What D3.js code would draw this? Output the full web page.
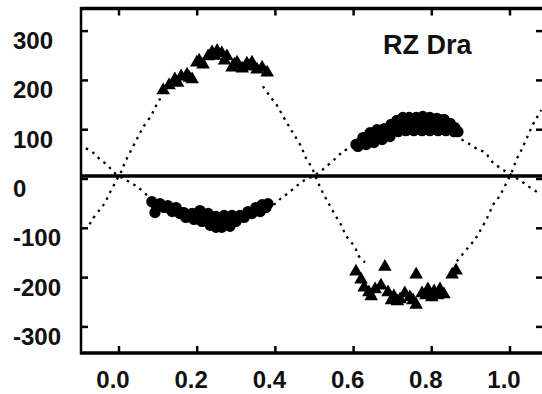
<!doctype html>
<html>
  <head>
    <title>RZ Dra radial velocity curve</title>
    <style>
      body { margin: 0; background: #fff; }
      svg text { font-family: "Liberation Sans", Arial, sans-serif; font-weight: bold; fill: #111; }
    </style>
  </head>
  <body>
    <div id="content"></div>
    <script src="https://d3js.org/d3.v7.min.js"></script>
    <script>
      // axis ticks
      const phaseTicks = [0, 0.2, 0.4, 0.6, 0.8, 1.0];
      const phaseLabels = ['0.0', '0.2', '0.4', '0.6', '0.8', '1.0'];
      const velocityTicks = [300, 200, 100, 0, -100, -200, -300];
      const velocityLabels = ['300', '200', '100', '0', '-100', '-200', '-300'];

      const starName = 'RZ Dra';
      const gamma = 6; // systemic velocity line

      // secondary star observations (triangles), [phase, km/s]
      const secondaryObs = [
        [0.113, 180], [0.128, 190], [0.143, 202], [0.159, 208], [0.174, 212], [0.187, 202],
        [0.199, 236], [0.215, 232], [0.228, 249], [0.238, 257], [0.251, 260], [0.263, 255],
        [0.276, 249], [0.289, 226], [0.302, 236], [0.315, 224], [0.327, 234], [0.340, 236],
        [0.353, 222], [0.366, 226], [0.379, 216],
        [0.150, 195], [0.180, 205], [0.205, 240], [0.245, 250], [0.270, 240], [0.295, 232],
        [0.335, 228],
        [0.606, -188], [0.619, -204], [0.627, -220], [0.639, -230], [0.655, -224], [0.670, -216],
        [0.680, -178], [0.688, -230], [0.703, -238], [0.719, -244], [0.731, -232], [0.744, -240],
        [0.760, -255], [0.760, -194], [0.775, -232], [0.790, -224], [0.806, -228], [0.821, -224],
        [0.831, -234], [0.852, -194], [0.862, -186],
        [0.645, -238], [0.697, -246], [0.712, -248], [0.752, -246], [0.785, -236], [0.800, -240],
        [0.815, -236]
      ];

      // primary star observations (circles), [phase, km/s]
      const primaryObs = [
        [0.084, -46], [0.105, -50], [0.125, -54], [0.146, -58], [0.166, -68], [0.187, -70],
        [0.207, -64], [0.228, -70], [0.248, -76], [0.269, -74], [0.289, -74], [0.309, -74],
        [0.330, -66], [0.350, -58], [0.366, -52], [0.381, -50],
        [0.095, -54], [0.115, -58], [0.136, -66], [0.156, -70], [0.171, -78], [0.192, -82],
        [0.212, -86], [0.233, -94], [0.248, -98], [0.263, -98], [0.284, -96], [0.299, -86],
        [0.320, -78], [0.340, -70], [0.361, -66], [0.376, -58], [0.092, -68],
        [0.100, -53], [0.130, -60], [0.160, -68], [0.182, -76], [0.200, -75], [0.220, -80],
        [0.240, -86], [0.258, -86], [0.278, -85], [0.296, -80], [0.315, -76], [0.335, -68],
        [0.356, -62], [0.372, -55],
        [0.606, 70], [0.624, 84], [0.642, 94], [0.660, 100], [0.678, 102], [0.696, 111],
        [0.711, 119], [0.726, 125], [0.742, 125], [0.760, 125], [0.777, 127], [0.795, 125],
        [0.813, 123], [0.831, 121], [0.847, 113], [0.859, 104],
        [0.611, 66], [0.632, 70], [0.652, 74], [0.673, 80], [0.693, 86], [0.714, 96],
        [0.734, 98], [0.754, 98], [0.775, 98], [0.795, 98], [0.816, 98], [0.836, 98],
        [0.857, 96], [0.867, 96],
        [0.620, 76], [0.640, 84], [0.662, 90], [0.684, 95], [0.704, 104], [0.722, 110],
        [0.740, 112], [0.758, 112], [0.776, 113], [0.794, 112], [0.812, 110], [0.830, 110],
        [0.848, 104]
      ];

      // dotted orbit curves, visible pieces only
      const secondaryCurve = [
        [[-0.075, -92], [-0.070, -84], [-0.049, -62], [-0.036, -48], [-0.023, -27], [-0.008, -5],
         [0.007, 17], [0.015, 33], [0.032, 60], [0.049, 86], [0.061, 104], [0.084, 131],
         [0.092, 145], [0.102, 158], [0.112, 176]],
        [[0.368, 188], [0.386, 168], [0.405, 148], [0.419, 128], [0.437, 104], [0.450, 87],
         [0.467, 64], [0.476, 46], [0.493, 23], [0.509, -7], [0.522, -29], [0.535, -48],
         [0.552, -72], [0.570, -96], [0.580, -114], [0.604, -139], [0.611, -154], [0.629, -169]],
        [[0.864, -167], [0.893, -139], [0.910, -123], [0.923, -106], [0.944, -75], [0.957, -52],
         [0.972, -36], [0.985, -17], [1.004, 13], [1.017, 40], [1.030, 60], [1.038, 74],
         [1.059, 111], [1.069, 125], [1.080, 140]]
      ];
      const primaryCurve = [
        [[-0.085, 62], [-0.079, 60], [-0.061, 50], [-0.049, 40], [-0.031, 29], [-0.019, 19],
         [-0.006, 9], [0.020, -3], [0.049, -17], [0.074, -35]],
        [[0.395, -52], [0.403, -48], [0.416, -38], [0.429, -31], [0.450, -17], [0.471, -4],
         [0.499, 7], [0.527, 23], [0.557, 44], [0.573, 56], [0.590, 62]],
        [[0.876, 80], [0.898, 70], [0.918, 60], [0.936, 54], [0.949, 40], [0.957, 33],
         [0.980, 20], [1.000, 10], [1.026, -3], [1.051, -17], [1.080, -32]]
      ];

      const width = 542;
      const height = 394;
      const frame = { left: 81, right: 543, top: 8.5, bottom: 353 };

      const x = d3.scaleLinear().domain([0, 1]).range([119, 510]);
      const y = d3.scaleLinear().domain([-300, 300]).range([326.9, 31.1]);

      const svg = d3.select('#content')
        .append('svg')
        .attr('width', width)
        .attr('height', height);

      svg.append('defs').append('clipPath')
        .attr('id', 'plot-clip')
        .append('rect')
        .attr('x', frame.left)
        .attr('y', frame.top)
        .attr('width', frame.right - frame.left)
        .attr('height', frame.bottom - frame.top);

      const plot = svg.append('g').attr('clip-path', 'url(#plot-clip)');

      // systemic velocity line
      plot.append('line')
        .attr('x1', frame.left).attr('x2', frame.right)
        .attr('y1', y(gamma)).attr('y2', y(gamma))
        .attr('stroke', '#000')
        .attr('stroke-width', 3.5);

      const line = d3.line()
        .x(d => x(d[0]))
        .y(d => y(d[1]))
        .curve(d3.curveCatmullRom);

      plot.selectAll('path.curve')
        .data(secondaryCurve.concat(primaryCurve))
        .join('path')
        .attr('class', 'curve')
        .attr('d', line)
        .attr('fill', 'none')
        .attr('stroke', '#000')
        .attr('stroke-width', 2.3)
        .attr('stroke-dasharray', '2.5,5');

      plot.selectAll('path.primary')
        .data(primaryObs)
        .join('path')
        .attr('class', 'primary')
        .attr('transform', d => `translate(${x(d[0])},${y(d[1])})`)
        .attr('d', d3.symbol(d3.symbolCircle, 100))
        .attr('fill', '#000');

      plot.selectAll('path.secondary')
        .data(secondaryObs)
        .join('path')
        .attr('class', 'secondary')
        .attr('transform', d => `translate(${x(d[0])},${y(d[1])})`)
        .attr('d', d3.symbol(d3.symbolTriangle, 80))
        .attr('fill', '#000');

      // frame
      const axes = svg.append('g').attr('stroke', '#000');
      axes.append('line')
        .attr('x1', frame.left).attr('x2', frame.left)
        .attr('y1', frame.top - 1.5).attr('y2', frame.bottom + 1.5)
        .attr('stroke-width', 2.5);
      axes.append('line')
        .attr('x1', frame.left).attr('x2', frame.right)
        .attr('y1', frame.top).attr('y2', frame.top)
        .attr('stroke-width', 3.5);
      axes.append('line')
        .attr('x1', frame.left).attr('x2', frame.right)
        .attr('y1', frame.bottom).attr('y2', frame.bottom)
        .attr('stroke-width', 3.5);

      // ticks pointing inwards on all four sides
      const tickLen = 7;
      axes.selectAll('line.xtick-b')
        .data(phaseTicks)
        .join('line')
        .attr('class', 'xtick-b')
        .attr('x1', d => x(d)).attr('x2', d => x(d))
        .attr('y1', frame.bottom).attr('y2', frame.bottom - tickLen)
        .attr('stroke-width', 2.5);
      axes.selectAll('line.xtick-t')
        .data(phaseTicks)
        .join('line')
        .attr('class', 'xtick-t')
        .attr('x1', d => x(d)).attr('x2', d => x(d))
        .attr('y1', frame.top).attr('y2', frame.top + tickLen)
        .attr('stroke-width', 2.5);
      axes.selectAll('line.ytick-l')
        .data(velocityTicks)
        .join('line')
        .attr('class', 'ytick-l')
        .attr('x1', frame.left).attr('x2', frame.left + tickLen)
        .attr('y1', d => y(d)).attr('y2', d => y(d))
        .attr('stroke-width', 2.5);
      axes.selectAll('line.ytick-r')
        .data(velocityTicks)
        .join('line')
        .attr('class', 'ytick-r')
        .attr('x1', frame.right).attr('x2', frame.right - tickLen)
        .attr('y1', d => y(d)).attr('y2', d => y(d))
        .attr('stroke-width', 2.5);

      // tick labels
      svg.selectAll('text.xlabel')
        .data(phaseTicks)
        .join('text')
        .attr('class', 'xlabel')
        .attr('x', d => x(d) - 6)
        .attr('y', 388)
        .attr('text-anchor', 'middle')
        .style('font-size', '24px')
        .text((d, i) => phaseLabels[i]);

      svg.selectAll('text.ylabel')
        .data(velocityTicks)
        .join('text')
        .attr('class', 'ylabel')
        .attr('x', 13)
        .attr('y', d => y(d) + 18)
        .attr('text-anchor', 'start')
        .style('font-size', '24px')
        .text((d, i) => velocityLabels[i]);

      svg.append('text')
        .attr('x', 383)
        .attr('y', 54)
        .style('font-size', '27px')
        .text(starName);
    </script>
  </body>
</html>
